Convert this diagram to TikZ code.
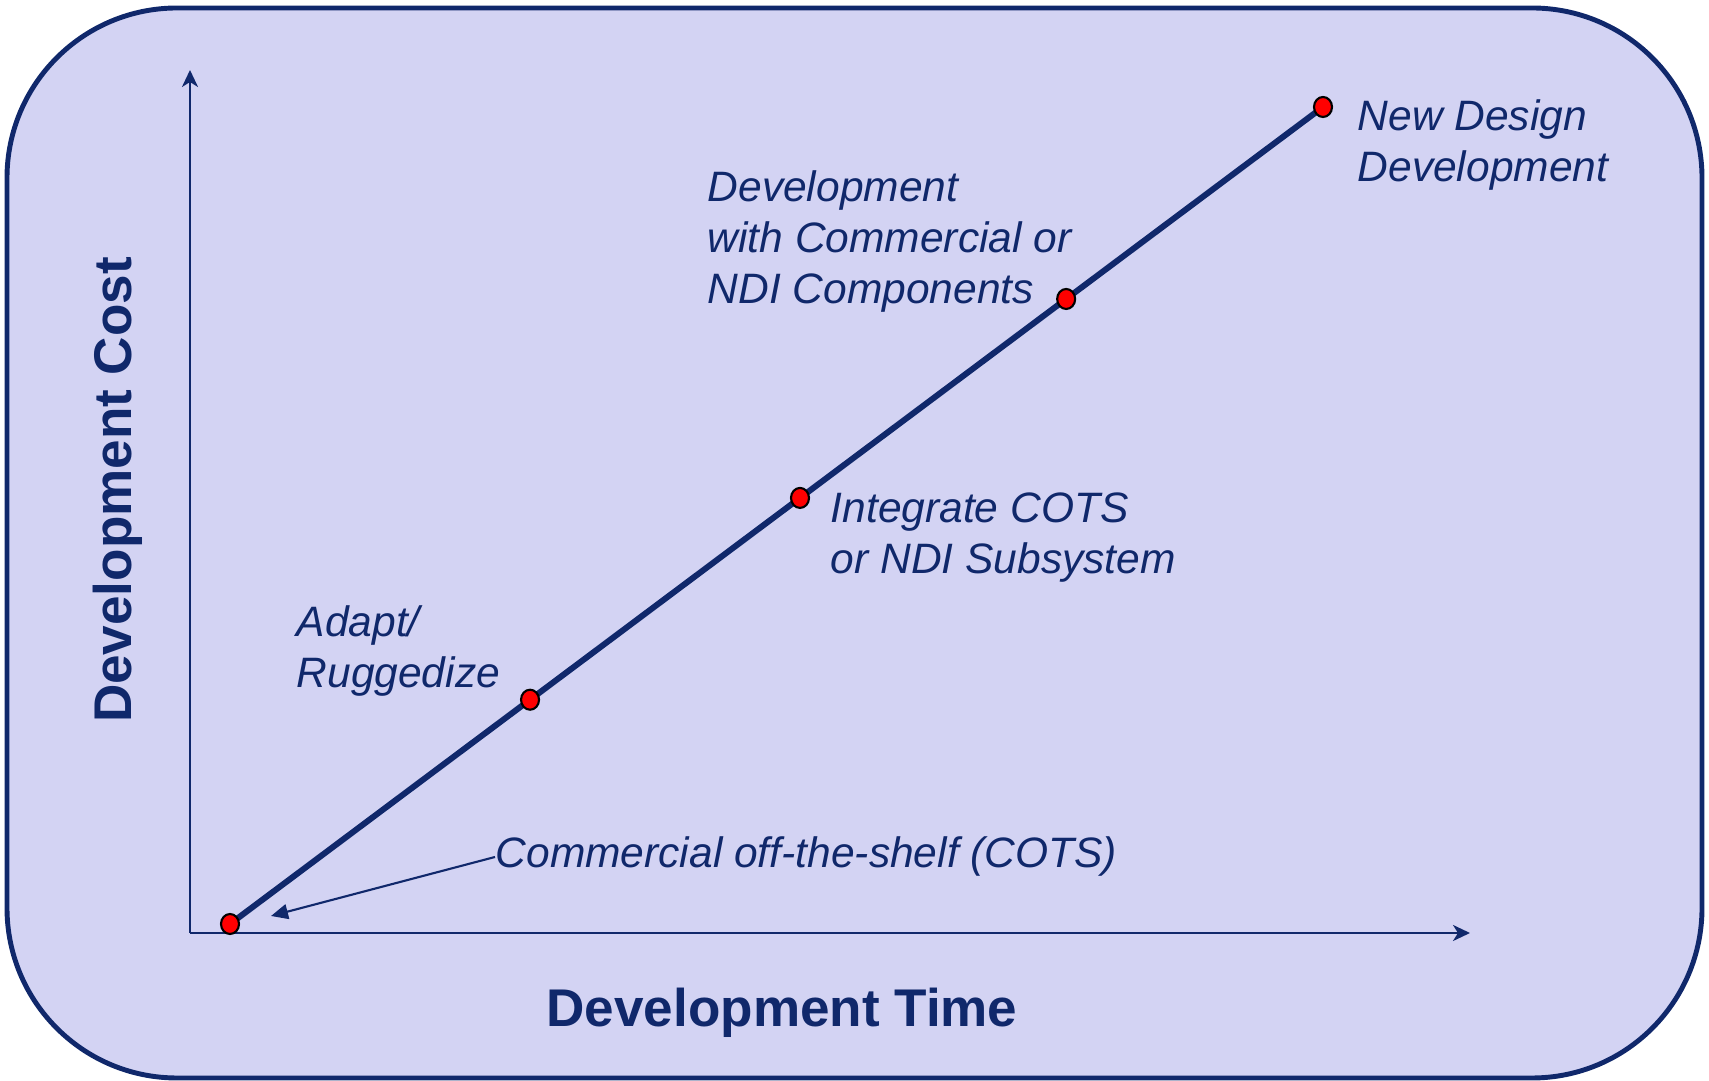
\documentclass[tikz,border=0pt]{standalone}
\usepackage{fontspec}
\setmainfont{Liberation Sans}
\usetikzlibrary{arrows.meta,positioning,shapes.geometric,calc}
\definecolor{Navy}{HTML}{10286B}
\definecolor{Lilac}{HTML}{D3D3F3}
\definecolor{DotRed}{HTML}{FF0000}

\begin{document}
\begin{tikzpicture}[
  axis/.style={Navy,line width=0.7pt,-{Stealth[length=0.17cm,width=0.16cm,inset=0.05cm]}},
  costline/.style={Navy,line width=1.7pt},
  dot/.style={ellipse,draw=black,line width=0.6pt,fill=DotRed,minimum width=0.18cm,minimum height=0.2cm,inner sep=0pt},
  lbl/.style={Navy,font=\fontsize{12.1}{14.6}\selectfont\itshape,align=left,inner sep=0pt,anchor=base west},
  axtitle/.style={Navy,font=\fontsize{15.1}{18}\selectfont\bfseries,inner sep=0pt,anchor=base},
  pointer/.style={Navy,line width=0.6pt,-{Triangle[length=0.17cm,width=0.15cm]}}]
  \useasboundingbox (0,0) rectangle (17.09,-10.81);
  % frame
  \draw[Navy,line width=1.4pt,fill=Lilac,rounded corners=1.7cm] (0.07,-0.08) rectangle (17.02,-10.78);
  % axes
  \coordinate (origin) at (1.90,-9.33);
  \coordinate (xend) at (14.70,-9.33);
  \coordinate (yend) at (1.90,-0.70);
  \draw[axis] (origin) -- (xend);
  \draw[axis] (origin) -- (yend);
  \node[axtitle] (xtitle) at (7.82,-10.27) {Development Time};
  \node[axtitle,rotate=90] (ytitle) at (1.31,-4.90) {Development Cost};
  % cost line and its stages
  \coordinate (s0) at (2.30,-9.24);
  \coordinate (s4) at (13.23,-1.07);
  \coordinate (s1) at ($(s0)!0.2745!(s4)$);
  \coordinate (s2) at ($(s0)!0.5215!(s4)$);
  \coordinate (s3) at ($(s0)!0.7650!(s4)$);
  \draw[costline] (s0) -- (s4);
  \foreach \s in {0,...,4} {
    \node[dot] (dot\s) at (s\s) {};
  }
  % labels sit on the baseline of their last line
  \node[lbl] (newdesign) at (13.57,-1.82) {New Design\\Development};
  \node[lbl] (withndi) at (7.07,-3.04) {Development\\with Commercial or\\NDI Components};
  \node[lbl] (integrate) at (8.30,-5.74) {Integrate COTS\\or NDI Subsystem};
  \node[lbl] (adapt) at (2.96,-6.88) {Adapt/\\Ruggedize};
  \node[lbl] (cots) at (4.95,-8.68) {Commercial off-the-shelf (COTS)};
  \coordinate (cotstip) at (2.71,-9.16);
  \draw[pointer] (cots.west) -- (cotstip);
\end{tikzpicture}
\end{document}
